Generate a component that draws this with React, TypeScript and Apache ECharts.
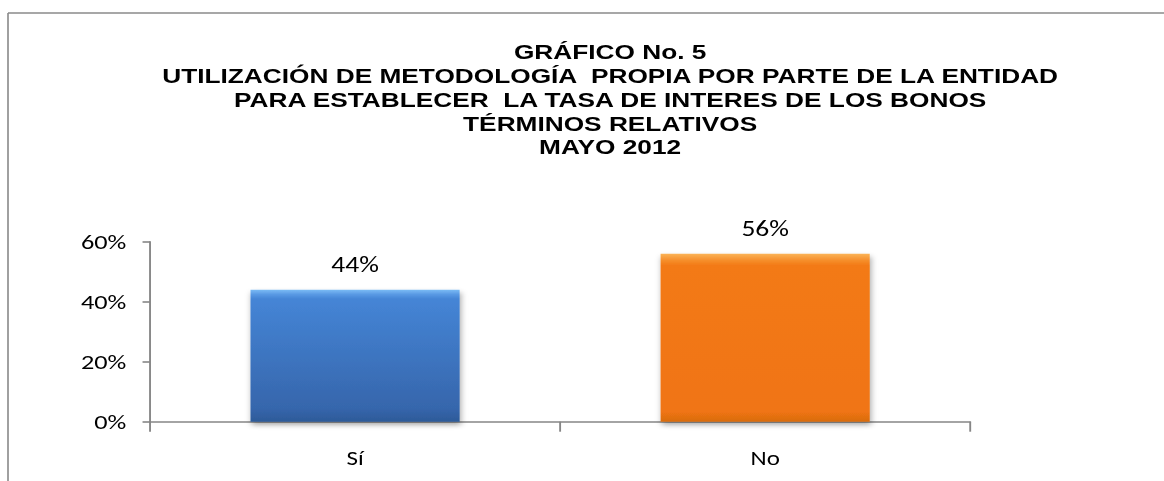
import React, { useEffect, useRef } from "react";
import * as echarts from "echarts";

const categories = ["Sí", "No"];
const values = [44, 56];
const yTicks = { min: 0, max: 60, interval: 20 };
const titleLines = [
  "GRÁFICO No. 5",
  "UTILIZACIÓN DE METODOLOGÍA  PROPIA POR PARTE DE LA ENTIDAD",
  "PARA ESTABLECER  LA TASA DE INTERES DE LOS BONOS",
  "TÉRMINOS RELATIVOS",
  "MAYO 2012",
];

const W = 931;
const H = 481;
const SX = 1164 / W;
const bodyFont = "Carlito, Calibri, Lato, 'Open Sans', sans-serif";

const blue = new echarts.graphic.LinearGradient(0, 0, 0, 1, [
  { offset: 0, color: "#7bbcf5" },
  { offset: 0.035, color: "#5a9ae4" },
  { offset: 0.07, color: "#4585d6" },
  { offset: 0.9, color: "#3666ac" },
  { offset: 1, color: "#2d5a98" },
]);
const orange = new echarts.graphic.LinearGradient(0, 0, 0, 1, [
  { offset: 0, color: "#fbb458" },
  { offset: 0.035, color: "#f69230" },
  { offset: 0.07, color: "#f37a16" },
  { offset: 0.94, color: "#f07412" },
  { offset: 1, color: "#d86c10" },
]);
const barColors = [blue, orange];

export default function App() {
  const ref = useRef<HTMLDivElement>(null);
  useEffect(() => {
    if (!ref.current) return;
    const chart = echarts.init(ref.current, null, { renderer: "svg" });
    chart.setOption({
      animation: false,
      backgroundColor: "#ffffff",
      title: {
        text: titleLines.join("\n"),
        left: 483,
        top: 34,
        textAlign: "center",
        textStyle: {
          fontFamily: "'Liberation Sans', Arial, sans-serif",
          fontWeight: "bold",
          fontSize: 21,
          lineHeight: 24,
          color: "#000000",
        },
      },
      grid: { left: 120, right: 155, top: 241.7, bottom: 59.3, containLabel: false },
      xAxis: {
        type: "category",
        data: categories,
        axisLine: { lineStyle: { color: "#868686", width: 1.6 } },
        axisTick: { show: true, length: 10, lineStyle: { color: "#868686", width: 1.5 } },
        axisLabel: {
          margin: 26,
          fontFamily: bodyFont,
          fontSize: 20,
          color: "#000000",
        },
        splitLine: { show: false },
      },
      yAxis: {
        type: "value",
        min: yTicks.min,
        max: yTicks.max,
        interval: yTicks.interval,
        axisLine: { show: true, lineStyle: { color: "#868686", width: 1.5 } },
        axisTick: { show: true, length: 6, lineStyle: { color: "#868686", width: 1.6 } },
        axisLabel: {
          formatter: "{value}%",
          margin: 19,
          fontFamily: bodyFont,
          fontSize: 21,
          color: "#000000",
        },
        splitLine: { show: false },
      },
      series: [
        {
          type: "bar",
          data: values.map((v, i) => ({
            value: v,
            itemStyle: {
              color: barColors[i],
              shadowColor: "rgba(0,0,0,0.35)",
              shadowBlur: 5,
              shadowOffsetX: 1,
              shadowOffsetY: 3,
            },
          })),
          barWidth: "51%",
          label: {
            show: true,
            position: "top",
            distance: 14,
            formatter: "{c}%",
            fontFamily: bodyFont,
            fontSize: 22,
            color: "#000000",
          },
        },
      ],
      graphic: [
        {
          type: "line",
          shape: { x1: 6.4, y1: 13, x2: W, y2: 13 },
          style: { stroke: "#8a8a8a", lineWidth: 1.5 },
        },
        {
          type: "line",
          shape: { x1: 6.4, y1: 13, x2: 6.4, y2: H },
          style: { stroke: "#8a8a8a", lineWidth: 1.3 },
        },
      ],
    });
    return () => chart.dispose();
  }, []);
  return (
    <div
      style={{
        position: "absolute",
        left: 0,
        top: 0,
        width: W,
        height: H,
        transform: `scaleX(${SX})`,
        transformOrigin: "0 0",
      }}
    >
      <div ref={ref} style={{ width: W, height: H }} />
    </div>
  );
}
